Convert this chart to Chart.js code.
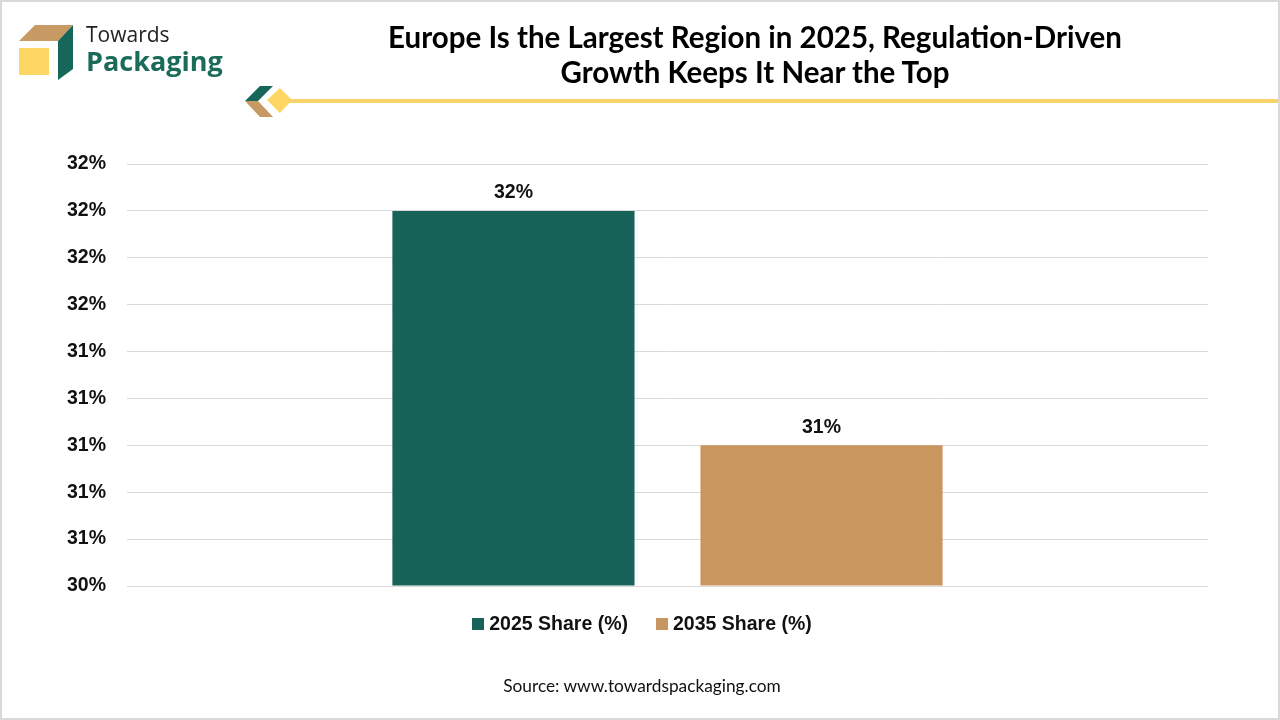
<!DOCTYPE html>
<html>
<head>
<meta charset="utf-8">
<script src="https://cdn.jsdelivr.net/npm/chart.js@4.4.1/dist/chart.umd.min.js"></script>
<style>
  html, body { margin: 0; padding: 0; background: #fff; }
  #page { position: relative; width: 1280px; height: 720px; overflow: hidden; box-sizing: border-box; border: 2px solid #d9d9d9; }
  #chartBox { position: absolute; left: -2px; top: -2px; width: 1280px; height: 720px; }
  .title { position: absolute; left: 250px; width: 1006px; top: 17px; text-align: center; font-family: Lato, sans-serif; font-weight: 700; font-size: 29.5px; line-height: 35px; color: #000; }
  .brand1 { position: absolute; left: 84px; top: 18px; font-family: "Open Sans", sans-serif; font-size: 21px; color: #222; }
  .brand2 { position: absolute; left: 84px; top: 40px; font-family: "Open Sans", sans-serif; font-weight: 700; font-size: 27px; color: #1b6b5a; }
  .legend { position: absolute; top: 610px; left: 0; width: 1280px; text-align: center; font-family: "Liberation Sans", Arial, sans-serif; font-weight: 700; font-size: 19.5px; color: #111; }
  .legend span.sw { display: inline-block; width: 12px; height: 12px; margin-right: 5px; vertical-align: 0px; }
  .legend .item { margin: 0 14px; }
  .source { position: absolute; top: 673px; left: 0; width: 1280px; text-align: center; font-family: Lato, sans-serif; font-size: 17.3px; color: #111; }
</style>
</head>
<body>
<div id="page">
  <div id="chartBox"><canvas id="barChart"></canvas></div>
  <svg style="position:absolute;left:-2px;top:-2px" width="1280" height="130">
    <polygon points="19,41 35,25 73,25 58,41" fill="#c79a64"/>
    <polygon points="58,41 73,25 73,69 58,80" fill="#17665a"/>
    <rect x="19" y="48" width="30" height="27" fill="#fdd663"/>
    <polygon points="245,101 260,86 273,86 258,101" fill="#17665a"/>
    <polygon points="245,101 258,101 273,117 260,117" fill="#c79a64"/>
    <polygon points="280,88 292,100 280,113 267,100" fill="#fdd663"/>
    <rect x="288" y="99" width="992" height="4" fill="#f7d46a"/>
  </svg>
  <div class="brand1">Towards</div>
  <div class="brand2">Packaging</div>
  <div class="title">Europe Is the Largest Region in 2025, Regulation-Driven<br>Growth Keeps It Near the Top</div>
  <div class="legend" id="legend"></div>
  <div class="source">Source: www.towardspackaging.com</div>
</div>
<script>
// chart data
const categories = ["Europe"];
const seriesNames = ["2025 Share (%)", "2035 Share (%)"];
const share2025 = [32];
const share2035 = [31];
const seriesColors = ["#17635a", "#c9965f"];

// y axis range (labels rounded to whole percent)
const yMin = 30.4;
const yMax = 32.2;
const yStep = 0.2;

// value labels above the bars
const barLabels = {
  id: "barLabels",
  afterDatasetsDraw(chart) {
    const ctx = chart.ctx;
    ctx.save();
    ctx.font = "bold 19.5px 'Liberation Sans', Arial, sans-serif";
    ctx.fillStyle = "#111";
    ctx.textAlign = "center";
    ctx.textBaseline = "middle";
    chart.data.datasets.forEach(function (ds, i) {
      chart.getDatasetMeta(i).data.forEach(function (bar, j) {
        ctx.fillText(Math.round(ds.data[j]) + "%", bar.x, bar.y - 18);
      });
    });
    ctx.restore();
  }
};

const chartCanvas = document.getElementById("barChart").getContext("2d");
new Chart(chartCanvas, {
  type: "bar",
  data: {
    labels: categories,
    datasets: [
      { label: seriesNames[0], data: share2025, backgroundColor: seriesColors[0], base: yMin },
      { label: seriesNames[1], data: share2035, backgroundColor: seriesColors[1], base: yMin }
    ]
  },
  options: {
    responsive: true,
    maintainAspectRatio: false,
    animation: false,
    categoryPercentage: 0.57,
    barPercentage: 0.786,
    layout: { padding: { left: 0, right: 72, top: 164, bottom: 134 } },
    plugins: {
      legend: { display: false },
      tooltip: { enabled: false }
    },
    scales: {
      x: { display: false },
      y: {
        min: yMin,
        max: yMax,
        afterFit: function (scale) { scale.width = 127; },
        afterBuildTicks: function (scale) {
          const ticks = [];
          for (let k = 0; k <= 9; k++) ticks.push({ value: +(yMin + k * yStep).toFixed(1) });
          scale.ticks = ticks;
        },
        border: { display: false },
        grid: { color: "#d9d9d9", lineWidth: 1, drawTicks: false },
        ticks: {
          padding: 21,
          color: "#111",
          font: { family: "'Liberation Sans', Arial, sans-serif", weight: "bold", size: 19.5 },
          callback: function (v) { return Math.round(v) + "%"; }
        }
      }
    }
  },
  plugins: [barLabels]
});

// html legend
document.getElementById("legend").innerHTML = seriesNames.map(function (n, i) {
  return '<span class="item"><span class="sw" style="background:' + seriesColors[i] + '"></span>' + n + '</span>';
}).join("");
</script>
</body>
</html>
